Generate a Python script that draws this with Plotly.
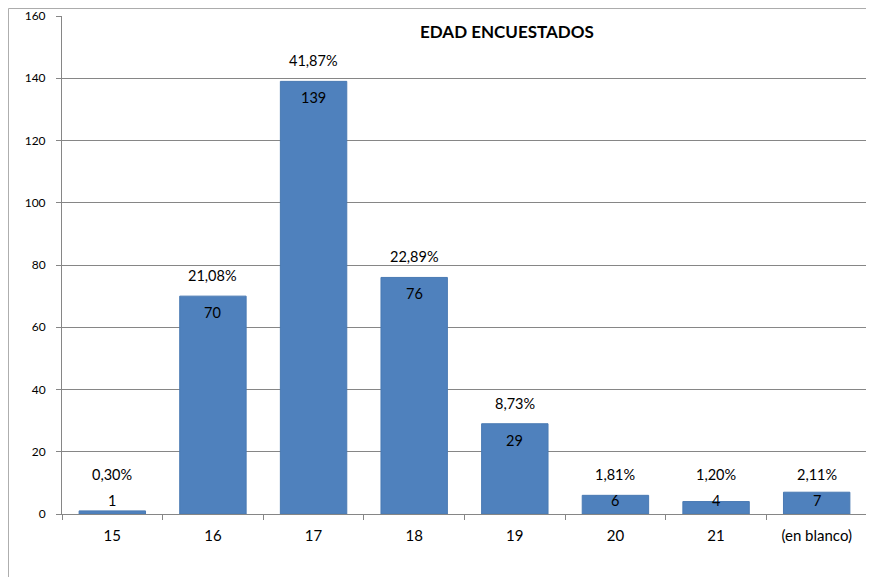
import plotly.graph_objects as go

edades = ["15", "16", "17", "18", "19", "20", "21", "(en blanco)"]
conteo = [1, 70, 139, 76, 29, 6, 4, 7]
porcentaje = ["0,30%", "21,08%", "41,87%", "22,89%", "8,73%", "1,81%", "1,20%", "2,11%"]

BLUE = "#4F81BD"
GRID = "#868686"
FONT = "Lato, 'Open Sans', sans-serif"

fig = go.Figure()
fig.add_trace(go.Bar(
    x=edades, y=conteo,
    marker=dict(color=BLUE, line=dict(color="#4A7AB3", width=1)),
    width=0.66,
    hoverinfo="x+y",
))

annotations = []
for i, (val, pct) in enumerate(zip(conteo, porcentaje)):
    if val >= 20:
        # tall bars: count inside the top, percentage just above
        annotations.append(dict(x=i, y=val, text=str(val), yanchor="top",
                                yshift=-6, showarrow=False))
        annotations.append(dict(x=i, y=val, text=pct, yanchor="bottom",
                                yshift=10, showarrow=False))
    else:
        # short bars: labels sit just above the baseline
        annotations.append(dict(x=i, y=0, text=str(val), yanchor="bottom",
                                yshift=3, showarrow=False))
        annotations.append(dict(x=i, y=0, text=pct, yanchor="bottom",
                                yshift=29, showarrow=False))

annotations.append(dict(x=0.553, y=0.968, xref="paper", yref="paper",
                        text="<b>EDAD ENCUESTADOS</b>", showarrow=False,
                        font=dict(size=17, color="black"), yanchor="middle"))

# the page body adds an 8px offset, so the figure is sized to compensate
fig.update_layout(
    width=866, height=569,
    margin=dict(l=54, r=7, t=8, b=63),
    paper_bgcolor="white", plot_bgcolor="white",
    font=dict(family=FONT, size=14.5, color="black"),
    showlegend=False,
    annotations=annotations,
    shapes=[
        dict(type="line", xref="paper", yref="paper", x0=-0.0665, x1=-0.0665,
             y0=1.015, y1=-0.2, line=dict(color="#ABABAB", width=1)),
        dict(type="line", xref="paper", yref="paper", x0=-0.0665, x1=1.05,
             y0=1.015, y1=1.015, line=dict(color="#ABABAB", width=1)),
    ],
)
fig.update_yaxes(
    range=[0, 160], dtick=20, showgrid=True, gridcolor=GRID, gridwidth=1,
    showline=True, linecolor=GRID, mirror=True, automargin=False,
    ticks="outside", ticklen=5, tickcolor=GRID, ticklabelstandoff=8,
    tickfont=dict(size=12), zeroline=False, fixedrange=True,
)
fig.update_xaxes(
    type="category", tickangle=0, range=[-0.5, len(edades) - 0.5], automargin=False,
    showline=True, linecolor=GRID, ticks="outside", ticklen=5, tickcolor=GRID,
    tickson="boundaries", ticklabelstandoff=8, tickfont=dict(size=15),
    fixedrange=True,
)

fig.write_html("out.html")
